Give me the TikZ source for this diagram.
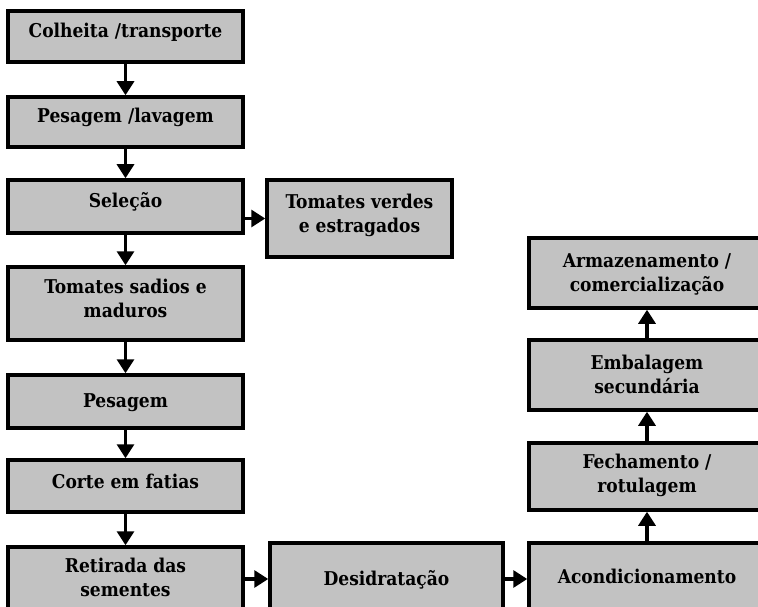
\documentclass[tikz,border=0pt]{standalone}
\usepackage{fontspec}
\setmainfont{DejaVu Serif Condensed}
\usetikzlibrary{arrows.meta}
\definecolor{boxgray}{RGB}{194,194,194}
\begin{document}
\begin{tikzpicture}[x=1pt,y=-1pt,
  box/.style={draw=black, line width=3.5pt, fill=boxgray, inner sep=0pt},
  txt/.style={align=center, font=\fontsize{19}{24}\selectfont\bfseries, inner sep=0pt, yshift=5pt},
  arr/.style={line width=3.2pt, -{Triangle[length=14pt,width=17pt]}}]
\useasboundingbox (0,0) rectangle (758,607);
\clip (0,0) rectangle (758,607);
\fill[white] (0,0) rectangle (758,607);
% left column
\node[box, minimum width=235pt, minimum height=51pt, label={[txt,yshift=-1pt]center:Colheita /transporte}] (c1) at (125.5,36.5) {};
\node[box, minimum width=235pt, minimum height=50pt, label={[txt]center:Pesagem /lavagem}] (c2) at (125.5,122) {};
\node[box, minimum width=235pt, minimum height=53pt, label={[txt]center:Seleção}] (c3) at (125.5,206.5) {};
\node[box, minimum width=185pt, minimum height=77pt, label={[txt,yshift=-2pt]center:Tomates verdes\\e estragados}] (v) at (359.5,218.5) {};
\node[box, minimum width=235pt, minimum height=73pt, label={[txt]center:Tomates sadios e\\maduros}] (c4) at (125.5,303.5) {};
\node[box, minimum width=235pt, minimum height=53pt, label={[txt,yshift=-6pt]center:Pesagem}] (c5) at (125.5,401.5) {};
\node[box, minimum width=235pt, minimum height=52pt, label={[txt]center:Corte em fatias}] (c6) at (125.5,486) {};
\node[box, minimum width=235pt, minimum height=68pt, label={[txt,yshift=-1pt]center:Retirada das\\sementes}] (c7) at (125.5,581) {};
% bottom row
\node[box, minimum width=233pt, minimum height=72pt, label={[txt,yshift=-6pt]center:Desidratação}] (d) at (386.5,579) {};
\node[box, minimum width=236pt, minimum height=72pt, label={[txt,yshift=-2pt]center:Acondicionamento}] (a) at (647,579) {};
% right column
\node[box, minimum width=236pt, minimum height=67pt, label={[txt,yshift=-4pt]center:Fechamento /\\rotulagem}] (f) at (647,476.5) {};
\node[box, minimum width=236pt, minimum height=70pt, label={[txt,yshift=-4pt]center:Embalagem\\secundária}] (e) at (647,375) {};
\node[box, minimum width=236pt, minimum height=70pt, label={[txt,yshift=-6pt]center:Armazenamento /\\comercialização}] (m) at (647,273) {};
% connectors
\draw[arr] (c1.south) -- (c2.north);
\draw[arr] (c2.south) -- (c3.north);
\draw[arr] (c3.south) -- (c4.north);
\draw[arr] (c4.south) -- (c5.north);
\draw[arr] (c5.south) -- (c6.north);
\draw[arr] (c6.south) -- (c7.north);
\draw[arr] (v.west -| c3.east) -- (v.west);
\draw[arr] (d.west -| c7.east) -- (d.west);
\draw[arr] (d.east) -- (a.west);
\draw[arr] (a.north) -- (f.south);
\draw[arr] (f.north) -- (e.south);
\draw[arr] (e.north) -- (m.south);
\end{tikzpicture}
\end{document}
